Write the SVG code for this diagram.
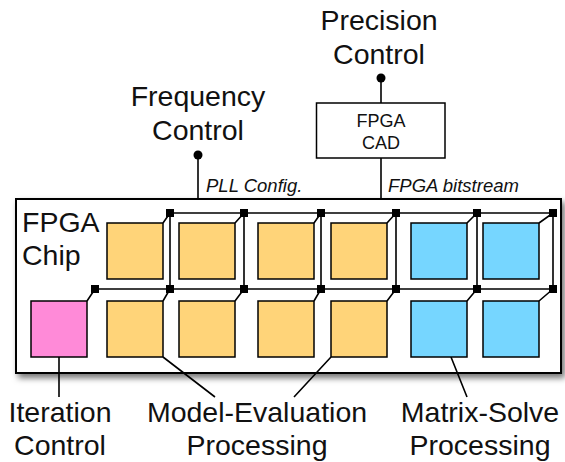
<svg xmlns="http://www.w3.org/2000/svg" width="565" height="462" viewBox="0 0 565 462">
<defs>
<filter id="sh" x="-5%" y="-10%" width="115%" height="130%">
<feDropShadow dx="3" dy="4" stdDeviation="3" flood-color="#000" flood-opacity="0.55"/>
</filter>
<style>
.big{font-family:"Liberation Sans",Arial,Helvetica,sans-serif;font-size:28.5px;fill:#111;text-anchor:middle}
.mid{font-family:"Liberation Sans",Arial,Helvetica,sans-serif;font-size:18px;fill:#111;text-anchor:middle}
.it{font-family:"Liberation Sans",Arial,Helvetica,sans-serif;font-size:18.5px;font-style:italic;fill:#111}
.ln{stroke:#000;stroke-width:1.6;fill:none}
.j{fill:#000}
.o{fill:#FFD479;stroke:#000;stroke-width:1.5}
.b{fill:#76D6FF;stroke:#000;stroke-width:1.5}
.p{fill:#FF8AD8;stroke:#000;stroke-width:1.5}
</style>
</defs>
<rect fill="#fff" x="0" y="0" width="565" height="462"/>

<g id="chip">
<rect x="16" y="199" width="545" height="174" fill="#fff" stroke="#000" stroke-width="2" filter="url(#sh)"/>
<text class="big" x="22" y="232" style="text-anchor:start">FPGA</text>
<text class="big" x="22" y="265" style="text-anchor:start">Chip</text>
</g>

<g id="connectors">
<line class="ln" x1="198" y1="155" x2="198" y2="199"/>
<line class="ln" x1="381" y1="78" x2="381" y2="103"/>
<line class="ln" x1="381" y1="158" x2="381" y2="199"/>
<circle cx="198" cy="155" r="4.5" class="j"/>
<circle cx="381" cy="78" r="4.5" class="j"/>
<path class="ln" d="M170 213H553M95 289H553M170 213V289M244 213V289M321 213V289M396 213V289M477 213V289M553 213V289"/>
<path class="ln" d="M170 213L163 223M244 213L235 223M321 213L314 223M396 213L387 223M477 213L467 223M553 213L539 223M95 289L87 301M170 289L163 301M244 289L235 301M321 289L314 301M396 289L387 301M477 289L467 301M553 289L539 301"/>
<g class="j">
<rect x="166" y="209" width="8" height="8"/><rect x="240" y="209" width="8" height="8"/><rect x="317" y="209" width="8" height="8"/><rect x="392" y="209" width="8" height="8"/><rect x="473" y="209" width="8" height="8"/><rect x="549" y="209" width="8" height="8"/>
<rect x="91" y="285" width="8" height="8"/><rect x="166" y="285" width="8" height="8"/><rect x="240" y="285" width="8" height="8"/><rect x="317" y="285" width="8" height="8"/><rect x="392" y="285" width="8" height="8"/><rect x="473" y="285" width="8" height="8"/><rect x="549" y="285" width="8" height="8"/>
</g>
<path class="ln" d="M59 357V397M163 357L215 397M331 357L294 397M451 357L467 397"/>
<text class="it" x="206" y="192">PLL Config.</text>
<text class="it" x="388" y="192">FPGA bitstream</text>
</g>

<g id="cad">
<rect x="316.5" y="103" width="128.5" height="55" fill="#fff" stroke="#000" stroke-width="1.5"/>
<text class="mid" x="381" y="127">FPGA</text>
<text class="mid" x="381" y="149">CAD</text>
</g>

<g id="precision"><text class="big" x="379" y="30">Precision</text><text class="big" x="379" y="64">Control</text></g>
<g id="frequency"><text class="big" x="198" y="106">Frequency</text><text class="big" x="198" y="140">Control</text></g>

<g id="pe-top">
<rect id="me1" class="o" x="107" y="223" width="56" height="56"/>
<rect id="me2" class="o" x="179" y="223" width="56" height="56"/>
<rect id="me3" class="o" x="258" y="223" width="56" height="56"/>
<rect id="me4" class="o" x="331" y="223" width="56" height="56"/>
<rect id="ms1" class="b" x="411" y="223" width="56" height="56"/>
<rect id="ms2" class="b" x="483" y="223" width="56" height="56"/>
</g>
<g id="pe-bottom">
<rect id="ic" class="p" x="31" y="301" width="56" height="56"/>
<rect id="me5" class="o" x="107" y="301" width="56" height="56"/>
<rect id="me6" class="o" x="179" y="301" width="56" height="56"/>
<rect id="me7" class="o" x="258" y="301" width="56" height="56"/>
<rect id="me8" class="o" x="331" y="301" width="56" height="56"/>
<rect id="ms3" class="b" x="411" y="301" width="56" height="56"/>
<rect id="ms4" class="b" x="483" y="301" width="56" height="56"/>
</g>

<g id="iteration"><text class="big" x="60" y="422">Iteration</text><text class="big" x="60" y="455">Control</text></g>
<g id="model"><text class="big" x="257" y="422">Model-Evaluation</text><text class="big" x="257" y="455">Processing</text></g>
<g id="matrix"><text class="big" x="480" y="422">Matrix-Solve</text><text class="big" x="480" y="455">Processing</text></g>
</svg>
